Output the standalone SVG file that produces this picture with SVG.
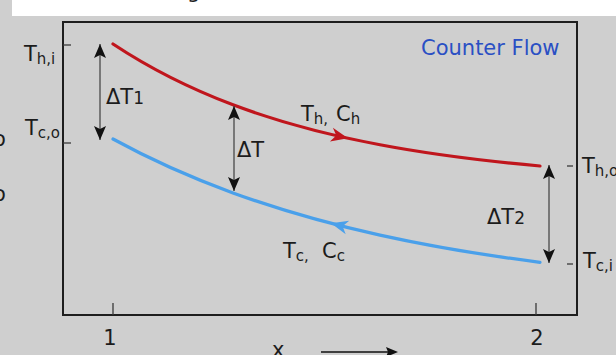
<svg xmlns="http://www.w3.org/2000/svg" width="616" height="355" viewBox="0 0 616 355">
<style>
text{font-family:"DejaVu Sans","Verdana",sans-serif;fill:#1c1c1c;font-size:21px}
.sub{font-size:15px}
.frame{fill:none;stroke:#1e1e1e;stroke-width:2}
.tick{stroke:#3a3a3a;stroke-width:1.3}
.dbl{stroke:#4a4a4a;stroke-width:1.3;fill:none;marker-start:url(#ah);marker-end:url(#ah)}
.hot{fill:none;stroke:#c0161d;stroke-width:3.2;stroke-linecap:round}
.cold{fill:none;stroke:#4aa0ea;stroke-width:3.2;stroke-linecap:round}
</style>
<defs>
<marker id="ah" viewBox="-15 -7 16 14" refX="0" refY="0" markerWidth="16" markerHeight="14" markerUnits="userSpaceOnUse" orient="auto-start-reverse">
<path d="M0,0 L-14,-6 L-11,0 L-14,6 Z" fill="#111"/>
</marker>
<path id="fh" d="M0,0 L-17,-7 L-12,0 L-17,7 Z"/>
</defs>
<rect x="0" y="0" width="616" height="355" fill="#cfcfcf"/>
<rect x="12" y="0" width="604" height="16" fill="#ffffff"/>
<text x="187" y="-2" font-size="22">g</text>
<text x="-7" y="146">o</text>
<text x="-7" y="201">o</text>

<g id="axes">
<path class="frame" d="M63,22 H577 V315 H63 Z"/>
<line class="tick" x1="63" y1="45" x2="71" y2="45"/>
<line class="tick" x1="63" y1="143" x2="71" y2="143"/>
<line class="tick" x1="567" y1="166" x2="573" y2="166"/>
<line class="tick" x1="567" y1="264" x2="573" y2="264"/>
<line class="tick" x1="113" y1="303" x2="113" y2="315"/>
<line class="tick" x1="536" y1="303" x2="536" y2="315"/>
<text x="110" y="345" text-anchor="middle">1</text>
<text x="537" y="345" text-anchor="middle">2</text>
<text x="272" y="357" font-size="26">x</text>
<line x1="321" y1="352" x2="390" y2="352" stroke="#111" stroke-width="1.5"/>
<path d="M398,352 L386,347 L388,352 L386,357 Z" fill="#111"/>
</g>

<g id="labels-left">
<text x="24" y="61">T<tspan class="sub" dy="3">h,i</tspan></text>
<text x="25" y="135">T<tspan class="sub" dy="3">c,o</tspan></text>
</g>
<g id="labels-right">
<text x="582" y="173">T<tspan class="sub" dy="3">h,o</tspan></text>
<text x="583" y="268">T<tspan class="sub" dy="3">c,i</tspan></text>
</g>

<g id="title">
<text x="421" y="55" font-size="23" style="fill:#2a4fc4">Counter Flow</text>
</g>

<g id="hot-stream">
<path class="hot" d="M113,44 C153,70.5 193,89.7 233,104.8 C282,123.3 331,135.5 380,144.8 C433.3,154.9 486.7,161.25 540,166"/>
<use href="#fh" fill="#c0161d" transform="translate(348,138.2) rotate(12.4)"/>
<text x="301" y="121">T<tspan class="sub" dy="3">h,</tspan><tspan x="336" dy="-3">C</tspan><tspan class="sub" dy="3">h</tspan></text>
</g>

<g id="cold-stream">
<path class="cold" d="M113,139 C153,160.9 193,178.3 233,192.9 C282,210.7 331,224.3 380,235.1 C433.3,246.9 486.7,255.5 540,262.3"/>
<use href="#fh" fill="#4aa0ea" transform="translate(331,223.2) rotate(194.6)"/>
<text x="283" y="258">T<tspan class="sub" dy="3">c,</tspan><tspan x="322" dy="-3">C</tspan><tspan class="sub" dy="3">c</tspan></text>
</g>

<g id="connectors">
<line class="dbl" x1="100" y1="44" x2="100" y2="140"/>
<line class="dbl" x1="234" y1="106" x2="234" y2="191"/>
<line class="dbl" x1="549" y1="165" x2="549" y2="263"/>
</g>

<g id="delta-labels">
<text x="106" y="104">ΔT<tspan font-size="17">1</tspan></text>
<text x="237" y="157">ΔT</text>
<text x="487" y="224">ΔT<tspan font-size="17">2</tspan></text>
</g>
</svg>
